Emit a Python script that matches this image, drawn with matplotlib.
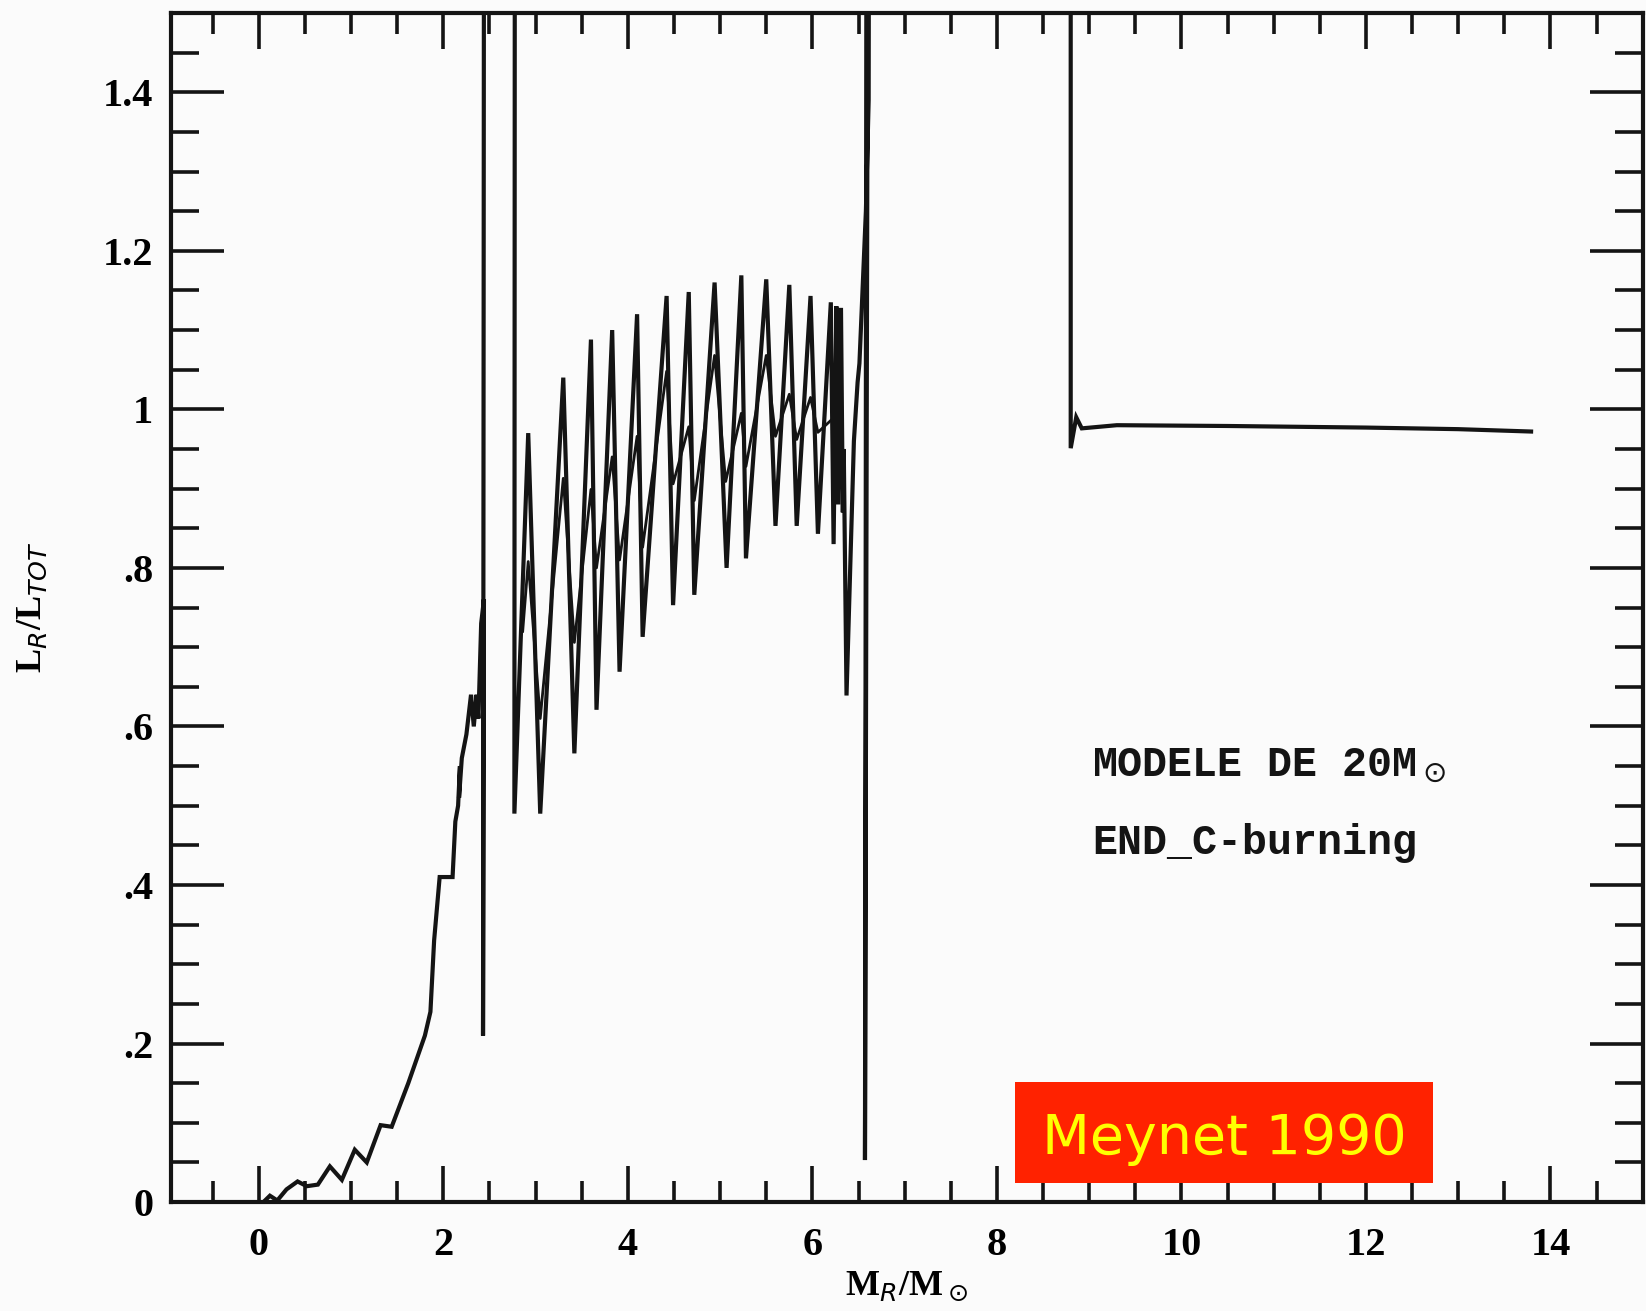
import matplotlib
matplotlib.use("Agg")
import matplotlib.pyplot as plt
from matplotlib.patches import Rectangle
from matplotlib.ticker import MultipleLocator, FixedLocator, FixedFormatter

# L_R/L_TOT profile (values > 1.5 run off the top)
mr = [0.05, 0.12, 0.20, 0.30, 0.42, 0.52, 0.64, 0.77, 0.90, 1.04, 1.17, 1.32, 1.44,
      1.62, 1.80, 1.86, 1.90, 1.96, 2.10, 2.13, 2.16, 2.18, 2.17, 2.20, 2.25, 2.30,
      2.33, 2.36, 2.38, 2.41, 2.44, 2.43, 2.45, 2.78, 2.77,
      2.92, 3.05, 3.30, 3.42, 3.60, 3.66, 3.83, 3.91, 4.10, 4.16, 4.42, 4.49,
      4.66, 4.72, 4.94, 5.07, 5.23, 5.28, 5.50, 5.60, 5.75, 5.83, 5.98, 6.06,
      6.20, 6.23, 6.26, 6.28, 6.31, 6.33, 6.34, 6.37, 6.45, 6.49, 6.51, 6.58,
      6.61, 6.63, 6.57, 6.60, 8.80, 8.80, 8.86, 8.92, 9.30, 10.5, 12.0, 13.0, 13.79]
lr = [0.0, 0.008, 0.002, 0.016, 0.026, 0.020, 0.022, 0.045, 0.028, 0.066, 0.050, 0.097, 0.095,
      0.150, 0.210, 0.240, 0.330, 0.410, 0.410, 0.480, 0.500, 0.550, 0.510, 0.560, 0.590, 0.640,
      0.600, 0.640, 0.610, 0.730, 0.760, 0.210, 3.0, 3.0, 0.490,
      0.970, 0.490, 1.040, 0.566, 1.088, 0.621, 1.100, 0.669, 1.120, 0.713, 1.143, 0.753,
      1.148, 0.766, 1.160, 0.800, 1.169, 0.812, 1.164, 0.853, 1.157, 0.853, 1.143, 0.843,
      1.135, 0.830, 1.130, 0.880, 1.128, 0.870, 0.950, 0.639, 0.960, 1.034, 1.058, 1.250,
      1.390, 3.0, 0.053, 3.0, 3.0, 0.951, 0.990, 0.976, 0.980, 0.979, 0.977, 0.975, 0.972]

# thinner inner zigzag inside the oscillating zone
mr_inner = [2.86, 2.92, 3.05, 3.30, 3.42, 3.60, 3.66, 3.83, 3.91, 4.10, 4.16, 4.42, 4.49,
            4.66, 4.72, 4.94, 5.06, 5.23, 5.28, 5.50, 5.60, 5.75, 5.83, 5.98, 6.06, 6.20]
lr_inner = [0.720, 0.808, 0.610, 0.913, 0.706, 0.899, 0.800, 0.940, 0.810, 0.966, 0.826, 1.048, 0.906,
            0.978, 0.885, 1.068, 0.909, 0.995, 0.928, 1.068, 0.966, 1.019, 0.962, 1.015, 0.971, 0.986]

ytick_vals = [0, 0.2, 0.4, 0.6, 0.8, 1.0, 1.2, 1.4]
ytick_labels = ['0', '.2', '.4', '.6', '.8', '1', '1.2', '1.4']
xtick_vals = [0, 2, 4, 6, 8, 10, 12, 14]

ink = '#141414'
fig = plt.figure(figsize=(16.46, 13.11), dpi=100, facecolor='#fbfbfb')
ax = fig.add_axes([0.104, 0.0831, 0.894, 0.907])
ax.set_facecolor('#fbfbfb')

ax.plot(mr, lr, color=ink, lw=3.0, solid_joinstyle='miter')
ax.plot(mr_inner, lr_inner, color=ink, lw=2.0)

ax.set_xlim(-0.95, 15)
ax.set_ylim(0, 1.5)

tickfont = dict(family='Liberation Serif', weight='bold', size=29)
ax.xaxis.set_major_locator(FixedLocator(xtick_vals))
ax.xaxis.set_minor_locator(MultipleLocator(0.5))
ax.yaxis.set_major_locator(FixedLocator(ytick_vals))
ax.yaxis.set_major_formatter(FixedFormatter(ytick_labels))
ax.yaxis.set_minor_locator(MultipleLocator(0.05))
ax.set_xticklabels([str(v) for v in xtick_vals], fontdict=tickfont)
ax.set_yticklabels(ytick_labels, fontdict=tickfont)

ax.tick_params(axis='both', which='both', direction='in', top=True, right=True,
               color=ink, width=2.6)
ax.tick_params(axis='y', which='major', length=38, pad=13)
ax.tick_params(axis='y', which='minor', length=20)
ax.tick_params(axis='x', which='major', length=26, pad=18)
ax.tick_params(axis='x', which='minor', length=15)
for s in ax.spines.values():
    s.set_linewidth(3)
    s.set_color(ink)

ax.set_xlabel(r'M$_R$/M$_\odot$', fontsize=26, fontweight='bold', family='Liberation Serif', labelpad=4)
ax.set_ylabel(r'L$_R$/L$_{TOT}$', fontsize=26, fontweight='bold', family='Liberation Serif')
ax.yaxis.set_label_coords(-0.083, 0.5)

ax.text(9.03, 0.538, r'MODELE DE 20M$_\odot$', family='Liberation Mono', weight='bold',
        fontsize=30, color=ink, va='baseline')
ax.text(9.03, 0.439, 'END_C-burning', family='Liberation Mono', weight='bold',
        fontsize=30, color=ink, va='baseline')

fig.patches.append(Rectangle((0.6166, 0.0976), 0.254, 0.077, transform=fig.transFigure,
                             facecolor='#ff2200', edgecolor='none', zorder=5))
fig.text(0.7436, 0.131, 'Meynet 1990', color='#ffff00', fontsize=40, family='DejaVu Sans',
         ha='center', va='center', zorder=6)

fig.savefig('out.png', dpi=100, facecolor=fig.get_facecolor())
